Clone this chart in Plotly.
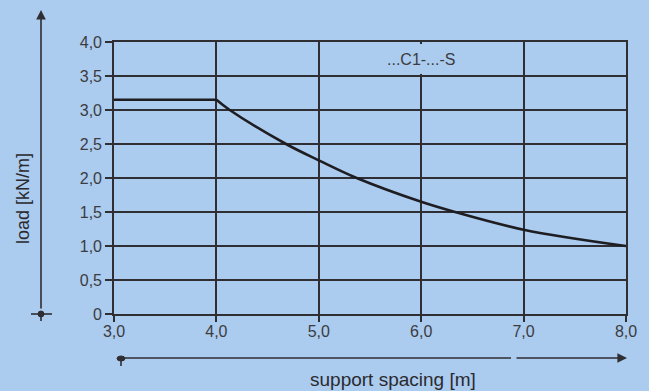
import plotly.graph_objects as go

# data
flat_spacing = [3.0, 4.0]
flat_load = [3.15, 3.15]
curve_spacing = [4.0, 4.13, 4.68, 5.0, 5.37, 6.0, 6.33, 7.0, 8.0]
curve_load = [3.15, 3.0, 2.5, 2.26, 2.0, 1.65, 1.5, 1.24, 1.0]

x_ticks = [3, 4, 5, 6, 7, 8]
x_labels = ["3,0", "4,0", "5,0", "6,0", "7,0", "8,0"]
y_ticks = [0, 0.5, 1, 1.5, 2, 2.5, 3, 3.5, 4]
y_labels = ["0", "0,5", "1,0", "1,5", "2,0", "2,5", "3,0", "3,5", "4,0"]

BG = "#abcbef"
INK = "#2e2e33"
TXT = "#3c3c40"
FONT = "Liberation Sans, Arial, sans-serif"

W, H = 649, 391
L, R, T, B = 114, 23, 42, 77
PW, PH = W - L - R, H - T - B

def px(xp):
    return (xp - L) / PW

def py(yp):
    return (H - B - yp) / PH

fig = go.Figure()
fig.add_trace(go.Scatter(x=flat_spacing, y=flat_load, mode="lines",
                         line=dict(color="#1e1e22", width=2.6),
                         hoverinfo="skip", showlegend=False))
fig.add_trace(go.Scatter(x=curve_spacing, y=curve_load, mode="lines",
                         line=dict(color="#1e1e22", width=2.6, shape="spline", smoothing=1.0),
                         hoverinfo="skip", showlegend=False))

axis_common = dict(showgrid=True, gridcolor=INK, gridwidth=1.6,
                   showline=True, linecolor=INK, linewidth=1.6, mirror=True,
                   ticks="outside", tickcolor=INK, tickwidth=1.6,
                   zeroline=False,
                   tickfont=dict(family=FONT, size=16, color=TXT))

fig.update_xaxes(range=[3, 8], tickvals=x_ticks, ticktext=x_labels, ticklen=6,
                 ticklabelstandoff=-4, **axis_common)
fig.update_yaxes(range=[0, 4], tickvals=y_ticks, ticktext=y_labels, ticklen=7,
                 **axis_common)

shapes = []
# gap in the 6,0 gridline behind the label
shapes.append(dict(type="rect", xref="x", yref="y", x0=5.93, x1=6.07, y0=3.53, y1=3.97,
                   fillcolor=BG, line=dict(width=0), layer="above"))
# vertical axis arrow foot cross
shapes.append(dict(type="line", xref="paper", yref="paper",
                   x0=px(31), x1=px(52), y0=py(314), y1=py(314),
                   line=dict(color=INK, width=1.6)))
shapes.append(dict(type="line", xref="paper", yref="paper",
                   x0=px(41), x1=px(41), y0=py(314), y1=py(321),
                   line=dict(color=INK, width=1.6)))
shapes.append(dict(type="circle", xref="paper", yref="paper",
                   x0=px(38), x1=px(44), y0=py(311), y1=py(317),
                   fillcolor=INK, line=dict(color=INK, width=1)))
# horizontal arrow first part
shapes.append(dict(type="line", xref="paper", yref="paper",
                   x0=px(121), x1=px(511), y0=py(358), y1=py(358),
                   line=dict(color=INK, width=1.6)))
shapes.append(dict(type="line", xref="paper", yref="paper",
                   x0=px(121), x1=px(121), y0=py(358), y1=py(366),
                   line=dict(color=INK, width=1.6)))
shapes.append(dict(type="circle", xref="paper", yref="paper",
                   x0=px(117), x1=px(125), y0=py(356), y1=py(361),
                   fillcolor=INK, line=dict(color=INK, width=1)))

annotations = [
    # vertical axis arrow
    dict(xref="paper", yref="paper", x=px(41), y=py(10), ax=0, ay=300,
         showarrow=True, arrowhead=2, arrowsize=1.2, arrowwidth=1.6,
         arrowcolor=INK, text=""),
    # horizontal arrow second part
    dict(xref="paper", yref="paper", x=px(627), y=py(358), ax=-112, ay=0,
         showarrow=True, arrowhead=2, arrowsize=1.2, arrowwidth=1.6,
         arrowcolor=INK, text=""),
    dict(xref="paper", yref="paper", x=px(23), y=py(199), text="load [kN/m]",
         textangle=-90, showarrow=False, xanchor="center", yanchor="middle",
         font=dict(family=FONT, size=18, color="#2a2a2e")),
    dict(xref="paper", yref="paper", x=px(393), y=py(379), text="support spacing [m]",
         showarrow=False, xanchor="center", yanchor="middle",
         font=dict(family=FONT, size=19, color="#2a2a2e")),
    dict(xref="x", yref="y", x=6.0, y=3.75, text="...C1-...-S",
         showarrow=False, xanchor="center", yanchor="middle",
         font=dict(family=FONT, size=16, color=TXT)),
]

fig.update_layout(width=W, height=H, margin=dict(l=L, r=R, t=T, b=B),
                  paper_bgcolor=BG, plot_bgcolor=BG,
                  shapes=shapes, annotations=annotations, showlegend=False)

fig.write_html("out.html", config={"displayModeBar": False},
               post_script="document.body.style.margin='0';document.body.style.overflow='hidden';document.body.style.background='%s';" % BG)
